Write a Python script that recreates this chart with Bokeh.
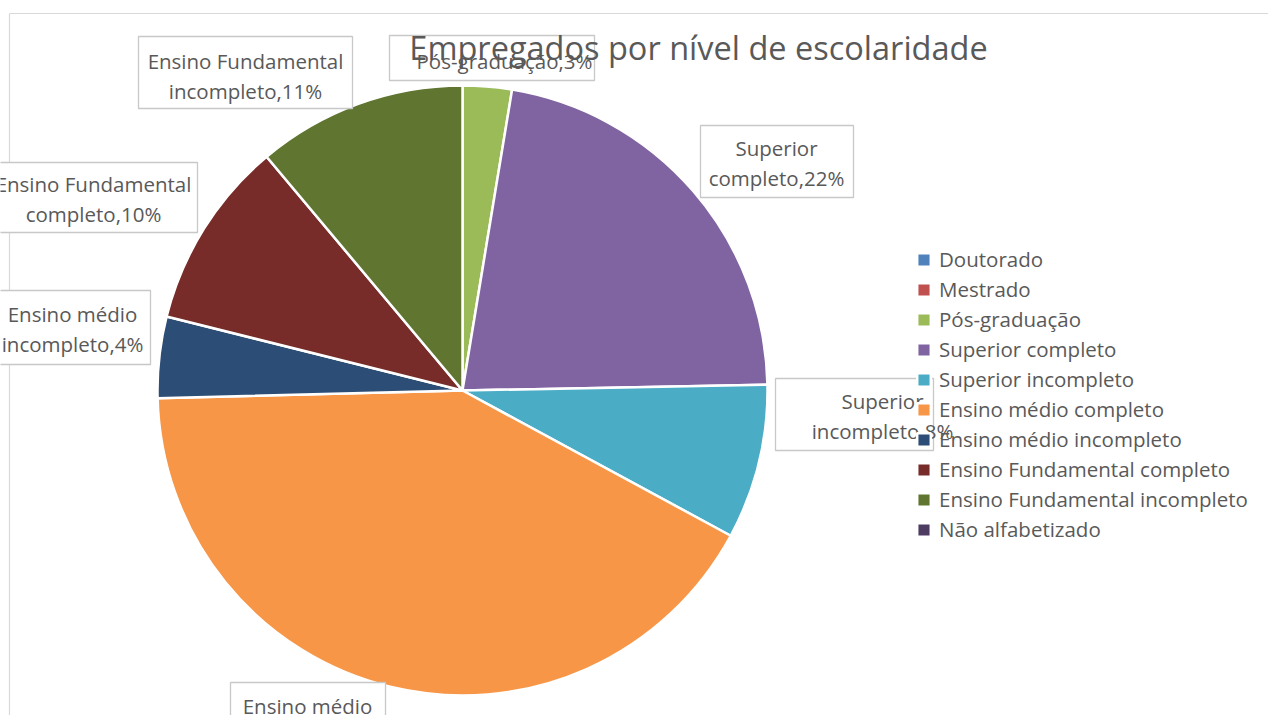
import math
from bokeh.plotting import figure
from bokeh.models import Range1d, ColumnDataSource, Legend, LegendItem
from bokeh.core.properties import value
from bokeh.embed import file_html
from bokeh.resources import INLINE

# ---------------- data ----------------
categories = [
    "Doutorado",
    "Mestrado",
    "Pós-graduação",
    "Superior completo",
    "Superior incompleto",
    "Ensino médio completo",
    "Ensino médio incompleto",
    "Ensino Fundamental completo",
    "Ensino Fundamental incompleto",
    "Não alfabetizado",
]
shares = [0.0, 0.0, 2.6, 22.1, 8.2, 41.7, 4.3, 10.0, 11.1, 0.0]
colors = ["#4F81BD", "#C0504D", "#9BBB59", "#8064A2", "#4BACC6",
          "#F79646", "#2C4D75", "#772C2A", "#5F7530", "#4D3B62"]
title_text = "Empregados por nível de escolaridade"

# ---------------- layout (page pixels) ----------------
W, H = 1268, 715
def fx(x): return x
def fy(y): return H - y

CX, CY, R = fx(462), fy(390), 305
FONT = "Open Sans"
GRAY = "#595959"
LINE_GAP = 30

# data-label placement: text centre and box (l, t, r, b) in page px
label_layout = {
    "Pós-graduação": ((504, 60), (389, 35, 594, 80)),
    "Superior completo": ((776, 162), (700, 125, 853, 197)),
    "Superior incompleto": ((882, 415), (775, 378, 933, 450)),
    "Ensino médio completo": ((307, 720), (230, 682, 385, 760)),
    "Ensino médio incompleto": ((72, 328), (-6, 290, 150, 364)),
    "Ensino Fundamental completo": ((93, 198), (-13, 162, 197, 232)),
    "Ensino Fundamental incompleto": ((245, 75), (138, 36, 352, 108)),
}

p = figure(width=W, height=H, x_range=Range1d(0, W), y_range=Range1d(0, H),
           output_backend="svg", toolbar_location=None,
           x_axis_location=None, y_axis_location=None, min_border=0)
p.grid.visible = False
p.outline_line_color = None
p.background_fill_color = "white"
p.border_fill_color = "white"

# chart border (partially visible)
p.segment(x0=[fx(9), fx(9)], y0=[fy(13), fy(13)], x1=[fx(9), W + 20], y1=[-20, fy(13)],
          line_color="#D9D9D9", line_width=1.2)

# ---------------- pie ----------------
total = sum(shares)
cum = 0.0
items = []
for name, s, c in zip(categories, shares, colors):
    start = math.pi / 2 - 2 * math.pi * cum / total
    end = math.pi / 2 - 2 * math.pi * (cum + s) / total
    cum += s
    xs = [CX] if s > 0 else [float("nan")]
    src = ColumnDataSource(dict(x=xs, y=[CY], start=[start], end=[end]))
    r = p.wedge(x="x", y="y", radius=R, start_angle="start", end_angle="end",
                direction="clock", source=src, fill_color=c,
                line_color="white", line_width=2.5)
    items.append(LegendItem(label=name, renderers=[r]))

# ---------------- data labels ----------------
bl, bt, br, bb = [], [], [], []
tx, ty, tt = [], [], []
for name, s in zip(categories, shares):
    if name not in label_layout:
        continue
    (cx_, cy_), (l, t, rr, b) = label_layout[name]
    pct = round(s / total * 100)
    parts = name.rsplit(" ", 1)
    lines = [parts[0], parts[1]] if len(parts) == 2 else [parts[0]]
    lines[-1] = lines[-1] + f",{pct}%"
    bl.append(fx(l)); br.append(fx(rr)); bt.append(fy(t)); bb.append(fy(b))
    n = len(lines)
    for i, ln in enumerate(lines):
        off = (i - (n - 1) / 2) * LINE_GAP
        tx.append(fx(cx_)); ty.append(fy(cy_ + off)); tt.append(ln)

p.quad(left=bl, right=br, top=bt, bottom=bb, fill_color="white",
       line_color="#C8C8C8", line_width=1.3)
p.text(x=tx, y=ty, text=tt, text_align="center", text_baseline="middle",
       text_font=value(FONT), text_font_size="20.5px", text_color=GRAY)

# ---------------- title ----------------
p.text(x=[fx(698)], y=[fy(47)], text=[title_text], text_align="center",
       text_baseline="alphabetic", text_font=value(FONT), text_font_size="32.5px",
       text_color=GRAY)

# ---------------- legend ----------------
legend = Legend(items=items, location=(fx(915), 172), orientation="vertical",
                glyph_width=17, glyph_height=17, label_height=20, spacing=2,
                label_standoff=7, padding=0, margin=0,
                label_text_font=FONT, label_text_font_size="20.5px",
                label_text_color=GRAY, border_line_color=None,
                background_fill_alpha=0)
p.add_layout(legend, "center")

open("out.html", "w").write(file_html(p, INLINE))
